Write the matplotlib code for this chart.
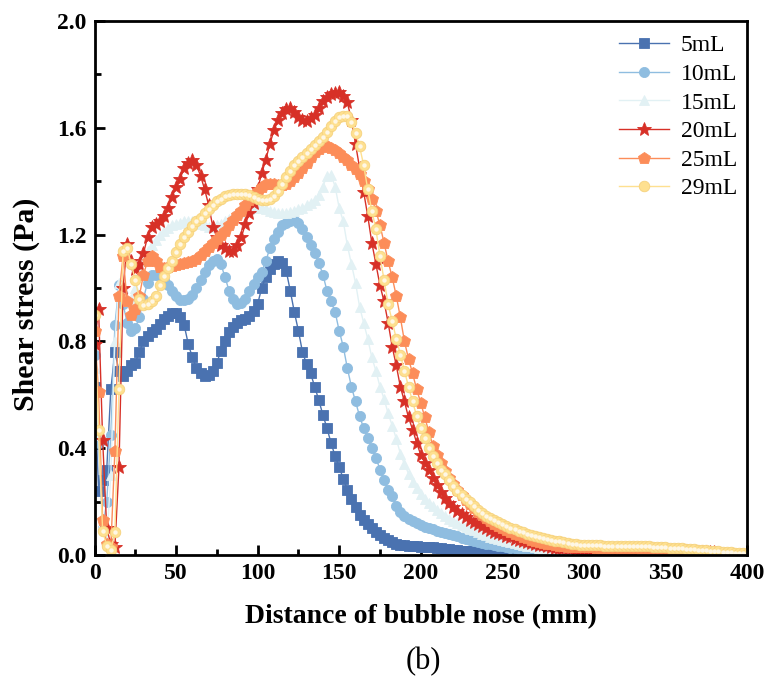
import numpy as np
import matplotlib
matplotlib.use("Agg")
import matplotlib.pyplot as plt
from matplotlib.ticker import MultipleLocator, FormatStrFormatter

plt.rcParams['font.family'] = ['Liberation Serif', 'DejaVu Serif']

STEP = 2.5  # sampling interval of bubble-nose distance (mm)

labels = ["5mL", "10mL", "15mL", "20mL", "25mL", "29mL"]

s5 = [0.63, 0.24, 0.28, 0.32, 0.62, 0.76, 0.69, 0.67, 0.69, 0.71,
      0.72, 0.76, 0.80, 0.82, 0.835, 0.845, 0.865, 0.885, 0.895, 0.905,
      0.905, 0.89, 0.86, 0.79, 0.74, 0.70, 0.68, 0.67, 0.675, 0.69,
      0.72, 0.765, 0.80, 0.835, 0.855, 0.87, 0.88, 0.885, 0.895, 0.915,
      0.94, 1.00, 1.04, 1.07, 1.09, 1.10, 1.095, 1.065, 0.99, 0.91,
      0.84, 0.76, 0.715, 0.68, 0.63, 0.58, 0.525, 0.475, 0.42, 0.37,
      0.33, 0.285, 0.245, 0.21, 0.18, 0.15, 0.13, 0.115, 0.10, 0.088,
      0.075, 0.064, 0.055, 0.048, 0.042, 0.038, 0.036, 0.034, 0.033, 0.032,
      0.031, 0.030, 0.030, 0.029, 0.027, 0.025, 0.023, 0.021, 0.019, 0.017,
      0.016, 0.015, 0.014, 0.013, 0.012, 0.011, 0.010, 0.009, 0.009, 0.008,
      0.007, 0.007, 0.006, 0.006, 0.005, 0.005, 0.004, 0.004, 0.004, 0.003,
      0.003, 0.003, 0.003, 0.002, 0.002, 0.002, 0.002, 0.002, 0.001, 0.001,
      0.001, 0.001, 0.001, 0.000, 0.000]

s10 = [0.75, 0.42, 0.10, 0.20, 0.45, 0.86, 1.01, 0.94, 0.87, 0.84,
       0.85, 0.89, 0.96, 1.02, 1.05, 1.05, 1.045, 1.03, 1.01, 0.99,
       0.97, 0.955, 0.955, 0.96, 0.975, 1.00, 1.03, 1.06, 1.085, 1.10,
       1.11, 1.09, 1.04, 0.99, 0.96, 0.94, 0.945, 0.96, 0.99, 1.015,
       1.04, 1.06, 1.10, 1.15, 1.185, 1.21, 1.235, 1.245, 1.25, 1.255,
       1.245, 1.22, 1.19, 1.16, 1.13, 1.095, 1.05, 0.99, 0.95, 0.91,
       0.84, 0.78, 0.70, 0.63, 0.575, 0.52, 0.475, 0.44, 0.40, 0.365,
       0.32, 0.28, 0.245, 0.22, 0.185, 0.16, 0.145, 0.135, 0.127, 0.12,
       0.113, 0.106, 0.10, 0.096, 0.091, 0.087, 0.083, 0.079, 0.074, 0.070,
       0.065, 0.061, 0.057, 0.054, 0.050, 0.046, 0.043, 0.040, 0.037, 0.035,
       0.033, 0.030, 0.028, 0.025, 0.023, 0.021, 0.019, 0.017, 0.015, 0.013,
       0.012, 0.010, 0.009, 0.008, 0.007, 0.006, 0.005, 0.005, 0.004, 0.004,
       0.003, 0.003, 0.003, 0.003, 0.002, 0.002, 0.002, 0.002, 0.002, 0.001,
       0.001, 0.001, 0.001, 0.001, 0.001, 0.001, 0.000, 0.000, 0.000, 0.000,
       0.000]

s15 = [0.70, 0.45, 0.12, 0.05, 0.30, 0.80, 1.02, 1.00, 0.95, 0.96,
       1.00, 1.06, 1.10, 1.14, 1.16, 1.18, 1.20, 1.215, 1.225, 1.235,
       1.24, 1.245, 1.25, 1.25, 1.25, 1.245, 1.24, 1.235, 1.23, 1.23,
       1.235, 1.24, 1.25, 1.26, 1.27, 1.28, 1.285, 1.29, 1.295, 1.30,
       1.30, 1.30, 1.295, 1.29, 1.285, 1.28, 1.28, 1.28, 1.285, 1.29,
       1.295, 1.30, 1.31, 1.32, 1.33, 1.35, 1.38, 1.42, 1.425, 1.38,
       1.30, 1.25, 1.16, 1.09, 1.02, 0.93, 0.87, 0.81, 0.74, 0.69,
       0.63, 0.585, 0.53, 0.485, 0.435, 0.38, 0.34, 0.305, 0.275, 0.25,
       0.23, 0.21, 0.195, 0.182, 0.17, 0.157, 0.145, 0.134, 0.127, 0.119,
       0.112, 0.104, 0.098, 0.092, 0.086, 0.080, 0.075, 0.069, 0.064, 0.060,
       0.057, 0.053, 0.049, 0.045, 0.042, 0.038, 0.035, 0.032, 0.029, 0.026,
       0.023, 0.020, 0.018, 0.016, 0.014, 0.012, 0.011, 0.010, 0.009, 0.008,
       0.007, 0.006, 0.006, 0.005, 0.005, 0.004, 0.004, 0.003, 0.003, 0.003,
       0.002, 0.002, 0.002, 0.002, 0.001, 0.001, 0.001, 0.001, 0.001, 0.000,
       0.000]

s20 = [0.79, 0.92, 0.43, 0.10, 0.04, 0.03, 0.33, 1.00, 1.165, 1.10,
       1.07, 1.09, 1.13, 1.19, 1.23, 1.24, 1.25, 1.27, 1.30, 1.34,
       1.38, 1.41, 1.45, 1.47, 1.478, 1.46, 1.42, 1.37, 1.31, 1.23,
       1.19, 1.16, 1.15, 1.138, 1.14, 1.16, 1.19, 1.24, 1.28, 1.32,
       1.37, 1.43, 1.48, 1.54, 1.59, 1.63, 1.655, 1.672, 1.675, 1.66,
       1.64, 1.628, 1.627, 1.635, 1.648, 1.675, 1.70, 1.715, 1.725, 1.732,
       1.733, 1.72, 1.695, 1.63, 1.54, 1.45, 1.36, 1.27, 1.17, 1.09,
       1.01, 0.95, 0.87, 0.78, 0.71, 0.63, 0.575, 0.515, 0.47, 0.42,
       0.375, 0.345, 0.32, 0.29, 0.262, 0.237, 0.215, 0.196, 0.18, 0.166,
       0.155, 0.143, 0.132, 0.123, 0.115, 0.108, 0.102, 0.095, 0.088, 0.082,
       0.077, 0.071, 0.066, 0.061, 0.057, 0.053, 0.049, 0.046, 0.042, 0.039,
       0.036, 0.033, 0.030, 0.028, 0.027, 0.026, 0.025, 0.025, 0.024, 0.024,
       0.024, 0.023, 0.023, 0.023, 0.022, 0.022, 0.022, 0.022, 0.021, 0.021,
       0.021, 0.020, 0.020, 0.020, 0.019, 0.019, 0.018, 0.018, 0.017, 0.017,
       0.016, 0.016, 0.015, 0.015, 0.014, 0.014, 0.013, 0.013, 0.012, 0.012,
       0.011, 0.011, 0.010]

s25 = [0.84, 0.61, 0.13, 0.04, 0.03, 0.39, 0.97, 1.12, 0.95, 0.90,
       0.92, 0.97, 1.05, 1.10, 1.12, 1.10, 1.08, 1.075, 1.08, 1.083,
       1.086, 1.09, 1.093, 1.097, 1.10, 1.11, 1.125, 1.14, 1.155, 1.17,
       1.185, 1.20, 1.215, 1.235, 1.255, 1.275, 1.29, 1.31, 1.33, 1.35,
       1.365, 1.38, 1.39, 1.39, 1.39, 1.387, 1.384, 1.39, 1.40, 1.415,
       1.43, 1.45, 1.47, 1.49, 1.51, 1.52, 1.527, 1.53, 1.525, 1.515,
       1.505, 1.49, 1.478, 1.46, 1.445, 1.428, 1.40, 1.37, 1.335, 1.29,
       1.235, 1.17, 1.10, 1.04, 0.97, 0.89, 0.80, 0.735, 0.68, 0.62,
       0.57, 0.515, 0.46, 0.41, 0.375, 0.345, 0.315, 0.29, 0.265, 0.245,
       0.225, 0.205, 0.19, 0.175, 0.162, 0.15, 0.138, 0.127, 0.117, 0.108,
       0.10, 0.093, 0.086, 0.08, 0.074, 0.068, 0.063, 0.058, 0.054, 0.05,
       0.046, 0.043, 0.04, 0.037, 0.035, 0.033, 0.031, 0.030, 0.030, 0.029,
       0.029, 0.029, 0.029, 0.028, 0.028, 0.028, 0.028, 0.027, 0.027, 0.027,
       0.026, 0.026, 0.025, 0.025, 0.024, 0.024, 0.023, 0.023, 0.022, 0.021,
       0.021, 0.020, 0.019, 0.019, 0.018, 0.017, 0.016, 0.016, 0.015, 0.014,
       0.013, 0.013, 0.012]

s29 = [0.90, 0.47, 0.09, 0.035, 0.02, 0.085, 0.62, 1.14, 1.15, 1.09,
       1.03, 0.96, 0.935, 0.94, 0.95, 0.97, 1.01, 1.045, 1.075, 1.10,
       1.135, 1.165, 1.19, 1.21, 1.232, 1.25, 1.263, 1.28, 1.295, 1.31,
       1.325, 1.335, 1.343, 1.348, 1.352, 1.353, 1.353, 1.351, 1.347, 1.341,
       1.335, 1.33, 1.33, 1.335, 1.345, 1.365, 1.39, 1.415, 1.44, 1.46,
       1.475, 1.49, 1.505, 1.52, 1.535, 1.55, 1.565, 1.585, 1.605, 1.627,
       1.64, 1.646, 1.645, 1.62, 1.58, 1.53, 1.46, 1.37, 1.29, 1.22,
       1.12, 1.03, 0.94, 0.875, 0.81, 0.75, 0.69, 0.63, 0.575, 0.52,
       0.475, 0.437, 0.40, 0.37, 0.345, 0.32, 0.305, 0.28, 0.26, 0.24,
       0.225, 0.21, 0.197, 0.184, 0.17, 0.158, 0.146, 0.138, 0.13, 0.122,
       0.115, 0.108, 0.102, 0.096, 0.09, 0.085, 0.08, 0.075, 0.071, 0.067,
       0.063, 0.06, 0.057, 0.054, 0.051, 0.048, 0.046, 0.043, 0.041, 0.039,
       0.038, 0.037, 0.037, 0.036, 0.036, 0.035, 0.035, 0.035, 0.035, 0.035,
       0.035, 0.035, 0.035, 0.034, 0.034, 0.033, 0.032, 0.031, 0.030, 0.029,
       0.029, 0.028, 0.027, 0.026, 0.025, 0.024, 0.022, 0.021, 0.020, 0.019,
       0.017, 0.016, 0.015, 0.014, 0.012, 0.011, 0.010, 0.009, 0.007, 0.006,
       0.005]

series = [s5, s10, s15, s20, s25, s29]
colors = ["#4a72b0", "#8fbde0", "#e2f1f4", "#d73027", "#fc8d59", "#fee090"]
markers = ["s", "o", "^", "*", "p", "o"]
msizes = [6.8, 7.3, 7.8, 10.0, 8.8, 7.6]
edges = ["#4a72b0", "#8fbde0", "#e2f1f4", "#d73027", "#fc8d59", "#f6d27e"]

fig = plt.figure(figsize=(7.71, 6.8), dpi=100)
ax = fig.add_axes([94.5 / 771, 125 / 680, (747 - 94.5) / 771, (659 - 125) / 680])

handles = []
for vals, c, m, ms, ec, lab in zip(series, colors, markers, msizes, edges, labels):
    y = np.array(vals)
    x = np.arange(len(y)) * STEP
    h, = ax.plot(x, y, color=c, lw=1.0, marker=m, ms=ms, mfc=c, mec=ec,
                 mew=0.6, label=lab)
    handles.append(h)

# highlight on the 29 mL balls
y29 = np.array(s29)
ax.plot(np.arange(len(y29)) * STEP, y29, ls='none', marker='o', ms=3.2,
        mfc='#fffaf0', mec='none', alpha=0.9)

ax.set_xlim(0, 400)
ax.set_ylim(0, 2.0)
ax.xaxis.set_major_locator(MultipleLocator(50))
ax.xaxis.set_minor_locator(MultipleLocator(25))
ax.yaxis.set_major_locator(MultipleLocator(0.4))
ax.yaxis.set_minor_locator(MultipleLocator(0.2))
ax.yaxis.set_major_formatter(FormatStrFormatter('%.1f'))

for s in ax.spines.values():
    s.set_linewidth(2.0)
ax.tick_params(which='both', direction='in', width=2.0, top=False, right=False)
ax.tick_params(which='major', length=7, labelsize=17, pad=6)
ax.tick_params(which='minor', length=4)
for t in ax.get_xticklabels() + ax.get_yticklabels():
    t.set_fontweight('bold')

ax.set_xlabel("Distance of bubble nose (mm)", fontsize=20, fontweight='bold', labelpad=14)
ax.set_ylabel("Shear stress (Pa)", fontsize=21.5, fontweight='bold')
ax.yaxis.set_label_coords(-0.084, 0.47)

leg = ax.legend(handles=handles, loc='upper right', bbox_to_anchor=(1.01, 1.005),
                frameon=False, fontsize=17, handlelength=2.1, handletextpad=0.5,
                labelspacing=0.3, borderaxespad=0.3)

fig.text(423 / 771, 1 - 662 / 680, "(b)", ha='center', va='center', fontsize=22)

fig.savefig("out.png", dpi=100)
